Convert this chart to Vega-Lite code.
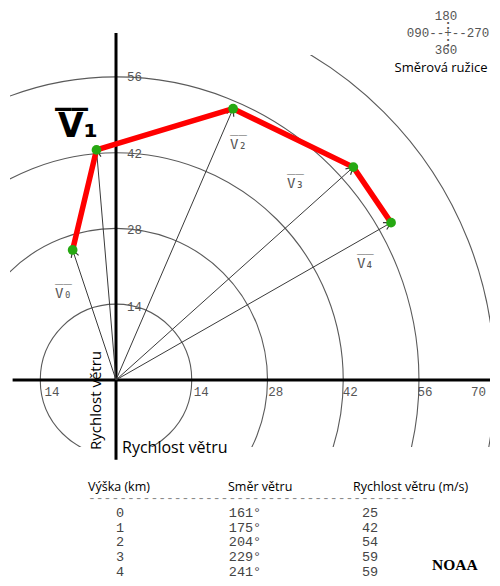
{
  "$schema": "https://vega.github.io/schema/vega-lite/v6.json",
  "padding": {"left": 10, "top": 10, "right": 0, "bottom": 0},
  "background": "white",
  "config": {"view": {"stroke": null}},
  "bounds": "flush",
  "spacing": 29,
  "datasets": {
    "winds": [
      {"h": 0, "dir": 161, "dirLabel": "161°", "spd": 25, "u0": 0, "v0": 0, "u": -8.139, "v": 23.638},
      {"h": 1, "dir": 175, "dirLabel": "175°", "spd": 42, "u0": 0, "v0": 0, "u": -3.661, "v": 41.840},
      {"h": 2, "dir": 204, "dirLabel": "204°", "spd": 54, "u0": 0, "v0": 0, "u": 21.964, "v": 49.331},
      {"h": 3, "dir": 229, "dirLabel": "229°", "spd": 59, "u0": 0, "v0": 0, "u": 44.528, "v": 38.707},
      {"h": 4, "dir": 241, "dirLabel": "241°", "spd": 59, "u0": 0, "v0": 0, "u": 51.603, "v": 28.604}
    ],
    "rings": [{"r": 14, "c": 0}, {"r": 28, "c": 0}, {"r": 42, "c": 0}, {"r": 56, "c": 0}, {"r": 70, "c": 0}],
    "axes": [
      {"x": -19.4, "x2": 70.17, "y": 0, "y2": 0},
      {"x": 0, "x2": 0, "y": -14.5, "y2": 63.1}
    ],
    "xticks": [
      {"t": -14, "label": "14"}, {"t": 14, "label": "14"}, {"t": 28, "label": "28"},
      {"t": 42, "label": "42"}, {"t": 56, "label": "56"}, {"t": 70, "label": "70"}
    ],
    "yticks": [
      {"t": 14, "label": "14"}, {"t": 28, "label": "28"}, {"t": 42, "label": "42"}, {"t": 56, "label": "56"}
    ],
    "vlabels": [
      {"lab": "V₀", "lx": -11.44, "ly": 14.9},
      {"lab": "V₂", "lx": 21.39, "ly": 42.0},
      {"lab": "V₃", "lx": 32.08, "ly": 34.9},
      {"lab": "V₄", "lx": 45.2, "ly": 20.36}
    ],
    "bigLabel": [{"lab": "V₁", "lx": -10.88, "ly": 44.18}],
    "rose": [
      {"x": 61.9, "y": 66.18, "t": "180"},
      {"x": 62.29, "y": 63.09, "t": "090--+--270"},
      {"x": 61.9, "y": 60.0, "t": "360"}
    ],
    "roseDots": [
      {"x": 62.29, "y": 64.6},
      {"x": 62.29, "y": 61.55}
    ],
    "roseTitle": [{"x": 60.98, "y": 56.73, "t": "Směrová ružice"}],
    "hTitle": [{"x": 1.13, "y": -13.28, "t": "Rychlost větru"}],
    "vTitle": [{"x": -2.81, "y": -12.73, "t": "Rychlost větru"}],
    "headers": [
      {"col": "h", "row": -2, "t": "Výška (km)"},
      {"col": "dirLabel", "row": -2, "t": "Směr větru"},
      {"col": "spd", "row": -2, "t": "Rychlost větru (m/s)"}
    ]
  },
  "vconcat": [
    {
      "width": 480,
      "height": 392,
      "layer": [
        {
          "data": {"name": "rings"},
          "mark": {"type": "point", "shape": "circle", "filled": false, "stroke": "#5a5a5a", "color": "#5a5a5a", "strokeWidth": 1.1, "opacity": 1, "clip": true},
          "encoding": {
            "x": {"field": "c", "type": "quantitative", "scale": {"domain": [-19.89, 70.17], "nice": false, "zero": false}, "axis": null},
            "y": {"field": "c", "type": "quantitative", "scale": {"domain": [-12.2, 59.1], "nice": false, "zero": false}, "axis": null},
            "size": {"field": "r", "type": "quantitative", "scale": {"type": "pow", "exponent": 2, "domain": [0, 70], "range": [0, 573655]}, "legend": null}
          }
        },
        {
          "data": {"name": "axes"},
          "mark": {"type": "rule", "color": "black", "strokeWidth": 3},
          "encoding": {
            "x": {"field": "x", "type": "quantitative", "scale": {"domain": [-19.89, 70.17], "nice": false, "zero": false}, "axis": null},
            "y": {"field": "y", "type": "quantitative", "scale": {"domain": [-12.2, 59.1], "nice": false, "zero": false}, "axis": null},
            "x2": {"field": "x2"},
            "y2": {"field": "y2"}
          }
        },
        {
          "data": {"name": "winds"},
          "mark": {"type": "rule", "color": "#3a3a3a", "strokeWidth": 1},
          "encoding": {
            "x": {"field": "u0", "type": "quantitative", "scale": {"domain": [-19.89, 70.17], "nice": false, "zero": false}, "axis": null},
            "y": {"field": "v0", "type": "quantitative", "scale": {"domain": [-12.2, 59.1], "nice": false, "zero": false}, "axis": null},
            "x2": {"field": "u"},
            "y2": {"field": "v"}
          }
        },
        {
          "data": {"name": "winds"},
          "mark": {"type": "point", "shape": "M-0.55,1L0,0L0.55,1", "filled": false, "stroke": "#3a3a3a", "color": "#3a3a3a", "strokeWidth": 1.2, "size": 200, "opacity": 1},
          "encoding": {
            "x": {"field": "u", "type": "quantitative", "scale": {"domain": [-19.89, 70.17], "nice": false, "zero": false}, "axis": null},
            "y": {"field": "v", "type": "quantitative", "scale": {"domain": [-12.2, 59.1], "nice": false, "zero": false}, "axis": null},
            "angle": {"field": "dir", "type": "quantitative", "scale": {"domain": [161, 241], "range": [-19, 61]}, "legend": null}
          }
        },
        {
          "data": {"name": "winds"},
          "mark": {"type": "line", "color": "#ff0000", "strokeWidth": 5.5, "strokeCap": "round", "strokeJoin": "round"},
          "encoding": {
            "x": {"field": "u", "type": "quantitative", "scale": {"domain": [-19.89, 70.17], "nice": false, "zero": false}, "axis": null},
            "y": {"field": "v", "type": "quantitative", "scale": {"domain": [-12.2, 59.1], "nice": false, "zero": false}, "axis": null},
            "order": {"field": "h", "type": "quantitative"}
          }
        },
        {
          "data": {"name": "winds"},
          "mark": {"type": "point", "shape": "circle", "filled": true, "color": "#26a812", "size": 95, "opacity": 1},
          "encoding": {
            "x": {"field": "u", "type": "quantitative", "scale": {"domain": [-19.89, 70.17], "nice": false, "zero": false}, "axis": null},
            "y": {"field": "v", "type": "quantitative", "scale": {"domain": [-12.2, 59.1], "nice": false, "zero": false}, "axis": null}
          }
        },
        {
          "data": {"name": "xticks"},
          "transform": [{"filter": "datum.t < 70"}],
          "mark": {"type": "text", "align": "left", "baseline": "middle", "dx": 3, "dy": 12, "font": "Liberation Mono", "fontSize": 12.5, "color": "#555555"},
          "encoding": {
            "x": {"field": "t", "type": "quantitative", "scale": {"domain": [-19.89, 70.17], "nice": false, "zero": false}, "axis": null},
            "y": {"datum": 0, "type": "quantitative", "scale": {"domain": [-12.2, 59.1], "nice": false, "zero": false}, "axis": null},
            "text": {"field": "label", "type": "nominal"}
          }
        },
        {
          "data": {"name": "xticks"},
          "transform": [{"filter": "datum.t == 70"}],
          "mark": {"type": "text", "align": "right", "baseline": "middle", "dx": -3, "dy": 12, "font": "Liberation Mono", "fontSize": 12.5, "color": "#555555"},
          "encoding": {
            "x": {"field": "t", "type": "quantitative", "scale": {"domain": [-19.89, 70.17], "nice": false, "zero": false}, "axis": null},
            "y": {"datum": 0, "type": "quantitative", "scale": {"domain": [-12.2, 59.1], "nice": false, "zero": false}, "axis": null},
            "text": {"field": "label", "type": "nominal"}
          }
        },
        {
          "data": {"name": "yticks"},
          "mark": {"type": "text", "align": "left", "baseline": "middle", "dx": 11, "dy": 4.5, "font": "Liberation Mono", "fontSize": 12.5, "color": "#555555"},
          "encoding": {
            "x": {"datum": 0, "type": "quantitative", "scale": {"domain": [-19.89, 70.17], "nice": false, "zero": false}, "axis": null},
            "y": {"field": "t", "type": "quantitative", "scale": {"domain": [-12.2, 59.1], "nice": false, "zero": false}, "axis": null},
            "text": {"field": "label", "type": "nominal"}
          }
        },
        {
          "data": {"name": "vlabels"},
          "mark": {"type": "text", "align": "left", "baseline": "alphabetic", "font": "DejaVu Sans Mono", "fontSize": 14, "color": "#555555"},
          "encoding": {
            "x": {"field": "lx", "type": "quantitative", "scale": {"domain": [-19.89, 70.17], "nice": false, "zero": false}, "axis": null},
            "y": {"field": "ly", "type": "quantitative", "scale": {"domain": [-12.2, 59.1], "nice": false, "zero": false}, "axis": null},
            "text": {"field": "lab", "type": "nominal"}
          }
        },
        {
          "data": {"name": "vlabels"},
          "mark": {"type": "text", "align": "left", "baseline": "alphabetic", "dy": -3, "text": "‾‾", "font": "DejaVu Sans Mono", "fontSize": 14, "color": "#555555"},
          "encoding": {
            "x": {"field": "lx", "type": "quantitative", "scale": {"domain": [-19.89, 70.17], "nice": false, "zero": false}, "axis": null},
            "y": {"field": "ly", "type": "quantitative", "scale": {"domain": [-12.2, 59.1], "nice": false, "zero": false}, "axis": null}
          }
        },
        {
          "data": {"name": "bigLabel"},
          "mark": {"type": "text", "align": "left", "baseline": "alphabetic", "font": "DejaVu Sans", "fontWeight": "bold", "fontSize": 33, "color": "black"},
          "encoding": {
            "x": {"field": "lx", "type": "quantitative", "scale": {"domain": [-19.89, 70.17], "nice": false, "zero": false}, "axis": null},
            "y": {"field": "ly", "type": "quantitative", "scale": {"domain": [-12.2, 59.1], "nice": false, "zero": false}, "axis": null},
            "text": {"field": "lab", "type": "nominal"}
          }
        },
        {
          "data": {"name": "bigLabel"},
          "mark": {"type": "text", "align": "left", "baseline": "alphabetic", "dx": -3, "dy": -4, "text": "‾‾", "font": "DejaVu Sans", "fontWeight": "bold", "fontSize": 33, "color": "black"},
          "encoding": {
            "x": {"field": "lx", "type": "quantitative", "scale": {"domain": [-19.89, 70.17], "nice": false, "zero": false}, "axis": null},
            "y": {"field": "ly", "type": "quantitative", "scale": {"domain": [-12.2, 59.1], "nice": false, "zero": false}, "axis": null}
          }
        },
        {
          "data": {"name": "hTitle"},
          "mark": {"type": "text", "align": "left", "baseline": "alphabetic", "font": "Open Sans", "fontSize": 16, "color": "black"},
          "encoding": {
            "x": {"field": "x", "type": "quantitative", "scale": {"domain": [-19.89, 70.17], "nice": false, "zero": false}, "axis": null},
            "y": {"field": "y", "type": "quantitative", "scale": {"domain": [-12.2, 59.1], "nice": false, "zero": false}, "axis": null},
            "text": {"field": "t", "type": "nominal"}
          }
        },
        {
          "data": {"name": "vTitle"},
          "mark": {"type": "text", "align": "left", "baseline": "alphabetic", "angle": 270, "font": "Open Sans", "fontSize": 15, "color": "black"},
          "encoding": {
            "x": {"field": "x", "type": "quantitative", "scale": {"domain": [-19.89, 70.17], "nice": false, "zero": false}, "axis": null},
            "y": {"field": "y", "type": "quantitative", "scale": {"domain": [-12.2, 59.1], "nice": false, "zero": false}, "axis": null},
            "text": {"field": "t", "type": "nominal"}
          }
        },
        {
          "data": {"name": "rose"},
          "mark": {"type": "text", "align": "center", "baseline": "middle", "font": "Liberation Mono", "fontSize": 12.5, "color": "#555555"},
          "encoding": {
            "x": {"field": "x", "type": "quantitative", "scale": {"domain": [-19.89, 70.17], "nice": false, "zero": false}, "axis": null},
            "y": {"field": "y", "type": "quantitative", "scale": {"domain": [-12.2, 59.1], "nice": false, "zero": false}, "axis": null},
            "text": {"field": "t", "type": "nominal"}
          }
        },
        {
          "data": {"name": "roseDots"},
          "mark": {"type": "text", "align": "center", "baseline": "middle", "text": ":", "font": "Liberation Mono", "fontSize": 12, "fontWeight": "bold", "color": "#555555"},
          "encoding": {
            "x": {"field": "x", "type": "quantitative", "scale": {"domain": [-19.89, 70.17], "nice": false, "zero": false}, "axis": null},
            "y": {"field": "y", "type": "quantitative", "scale": {"domain": [-12.2, 59.1], "nice": false, "zero": false}, "axis": null}
          }
        },
        {
          "data": {"name": "roseTitle"},
          "mark": {"type": "text", "align": "center", "baseline": "middle", "font": "Open Sans", "fontSize": 13, "color": "black"},
          "encoding": {
            "x": {"field": "x", "type": "quantitative", "scale": {"domain": [-19.89, 70.17], "nice": false, "zero": false}, "axis": null},
            "y": {"field": "y", "type": "quantitative", "scale": {"domain": [-12.2, 59.1], "nice": false, "zero": false}, "axis": null},
            "text": {"field": "t", "type": "nominal"}
          }
        }
      ]
    },
    {
      "width": 470,
      "height": 103,
      "layer": [
        {
          "data": {"name": "headers"},
          "transform": [{"filter": "datum.col == 'h'"}],
          "mark": {"type": "text", "align": "left", "baseline": "middle", "dx": -32, "dy": 3.5, "font": "Open Sans", "fontSize": 12.5, "color": "black"},
          "encoding": {
            "x": {"field": "col", "type": "nominal", "scale": {"type": "point", "domain": ["h", "dirLabel", "spd"], "padding": 0.88}, "axis": null},
            "y": {"field": "row", "type": "ordinal", "scale": {"type": "point", "domain": [-2, -1, 0, 1, 2, 3, 4], "padding": 0.5}, "axis": null},
            "text": {"field": "t", "type": "nominal"}
          }
        },
        {
          "data": {"name": "headers"},
          "transform": [{"filter": "datum.col != 'h'"}],
          "mark": {"type": "text", "align": "left", "baseline": "middle", "dx": -17, "dy": 3.5, "font": "Open Sans", "fontSize": 12.5, "color": "black"},
          "encoding": {
            "x": {"field": "col", "type": "nominal", "axis": null},
            "y": {"field": "row", "type": "ordinal", "axis": null},
            "text": {"field": "t", "type": "nominal"}
          }
        },
        {
          "data": {"values": [{"col": "h", "row": -1, "t": "------------------------------------------"}]},
          "mark": {"type": "text", "align": "left", "baseline": "middle", "dx": -32, "font": "Liberation Mono", "fontSize": 13, "color": "#8a8a8a"},
          "encoding": {
            "x": {"field": "col", "type": "nominal", "axis": null},
            "y": {"field": "row", "type": "ordinal", "axis": null},
            "text": {"field": "t", "type": "nominal"}
          }
        },
        {
          "data": {"name": "winds"},
          "transform": [{"fold": ["h", "dirLabel", "spd"], "as": ["key", "val"]}],
          "mark": {"type": "text", "align": "center", "baseline": "middle", "font": "Liberation Mono", "fontSize": 13.5, "color": "#444444"},
          "encoding": {
            "x": {"field": "key", "type": "nominal", "axis": null},
            "y": {"field": "h", "type": "ordinal", "axis": null},
            "text": {"field": "val", "type": "nominal"}
          }
        },
        {
          "data": {"values": [{"col": "spd", "row": 3, "t": "NOAA"}]},
          "mark": {"type": "text", "align": "left", "baseline": "middle", "dx": 62, "dy": 8, "font": "Liberation Serif", "fontWeight": "bold", "fontSize": 15.5, "color": "black"},
          "encoding": {
            "x": {"field": "col", "type": "nominal", "axis": null},
            "y": {"field": "row", "type": "ordinal", "axis": null},
            "text": {"field": "t", "type": "nominal"}
          }
        }
      ]
    }
  ]
}
